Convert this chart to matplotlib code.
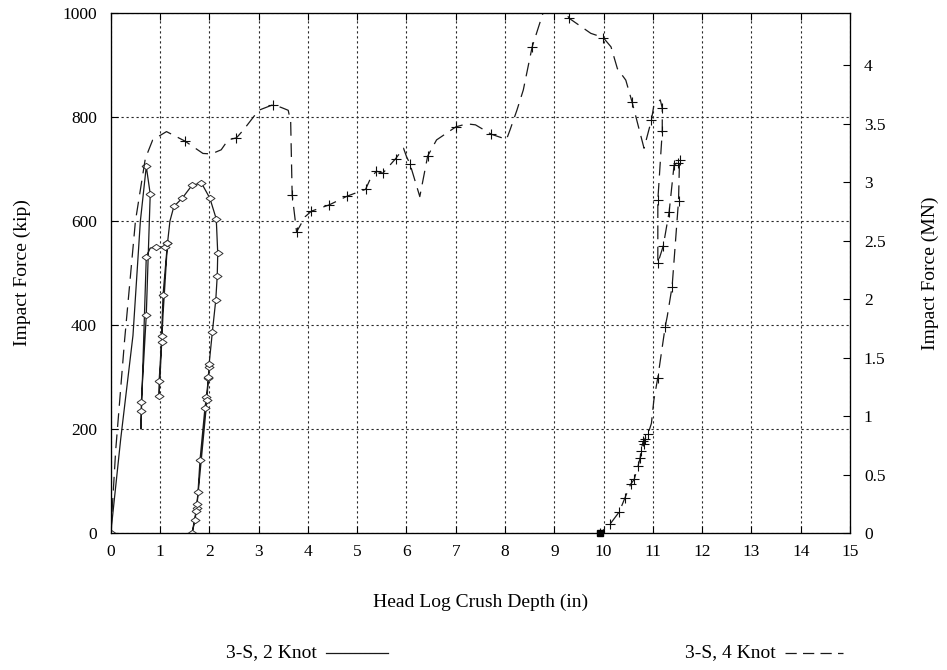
import matplotlib
matplotlib.use("Agg")
import matplotlib.pyplot as plt
from matplotlib.lines import Line2D

plt.rcParams['font.family'] = ['Liberation Serif', 'DejaVu Serif']
plt.rcParams['font.size'] = 12.5

# 3-S, 2 knot (solid, diamonds)
x_2knot = [0, 0.2, 0.45, 0.6, 0.72, 0.8, 0.72, 0.62, 0.62, 0.61, 0.72, 0.8,
           0.92, 1.09, 1.15, 1.06, 1.03, 1.03, 0.98, 0.98, 1.06, 1.15, 1.2,
           1.28, 1.45, 1.65, 1.84, 2.01, 2.14, 2.17, 2.16, 2.13, 2.06, 1.99,
           1.98, 1.94, 1.91, 1.81, 1.77, 1.74, 1.71, 1.65, 1.73, 1.75, 1.95,
           1.98, 2.0]
y_2knot = [0, 180, 380, 600, 705, 652, 419, 252, 235, 200, 531, 548,
           550, 550, 558, 458, 378, 368, 292, 263, 420, 557, 600,
           628, 644, 669, 673, 644, 604, 538, 495, 448, 386, 320,
           298, 261, 240, 140, 79, 48, 25, 0, 42, 55, 255,
           300, 325]
mark_2knot = [0, 4, 5, 6, 7, 8, 10, 12, 13, 14, 15, 16, 17, 18, 19, 21, 23,
              24, 25, 26, 27, 28, 29, 30, 31, 32, 33, 34, 35, 36, 37, 38, 39,
              40, 41, 42, 43, 44, 45, 46]

# 3-S, 4 knot (dashed, plus)
x_4knot = [0, 0.1, 0.28, 0.5, 0.7, 0.85, 1.13, 1.5, 1.87, 2.04, 2.24, 2.38,
           2.55, 2.69, 3.0, 3.3, 3.47, 3.6, 3.65, 3.68, 3.77, 3.94, 4.07,
           4.43, 4.8, 5.17, 5.27, 5.39, 5.52, 5.78, 5.94, 6.0, 6.07, 6.27,
           6.43, 6.61, 7.0, 7.22, 7.4, 7.72, 8.03, 8.1, 8.24, 8.37, 8.55,
           8.77, 9.0, 9.25, 9.3, 9.74, 9.99, 10.15, 10.28, 10.45, 10.58,
           10.82, 10.97, 11.02, 11.15, 11.19, 11.19, 11.1, 11.1, 11.21,
           11.33, 11.43, 11.5, 11.54, 11.52, 11.39, 11.29, 11.25, 11.1,
           11.02, 10.97, 10.9, 10.83, 10.82, 10.8, 10.76, 10.74, 10.7,
           10.62, 10.55, 10.43, 10.32, 10.13, 9.93]
y_4knot = [0, 160, 371, 600, 720, 756, 772, 754, 730, 729, 737, 756,
           760, 775, 813, 824, 818, 813, 791, 651, 579, 608, 619,
           631, 648, 661, 682, 696, 692, 720, 740, 724, 710, 647,
           725, 756, 781, 787, 785, 767, 757, 775, 813, 852, 935,
           1000, 1030, 998, 990, 961, 953, 935, 893, 871, 828,
           740, 794, 823, 833, 817, 773, 640, 519, 552,
           618, 708, 712, 717, 639, 474, 416, 397, 299,
           256, 211, 190, 180, 172, 176, 158, 144, 129,
           103, 94, 67, 41, 17, 0]
mark_4knot = [7, 12, 15, 19, 20, 22, 23, 24, 25, 27, 28, 29, 32, 34, 36, 39,
              44, 48, 50, 54, 56, 59, 60, 61, 62, 63, 64, 65, 66, 67, 68, 69,
              71, 72, 75, 76, 77, 78, 79, 80, 81, 82, 83, 84, 85, 86, 87]

kip_to_mn = 0.00444822

diamond = [(-1, 0), (0, 0.7), (1, 0), (0, -0.7), (-1, 0)]

fig = plt.figure(figsize=(9.47, 6.7), dpi=100)
ax = fig.add_axes([0.117, 0.2045, 0.7806, 0.776])

ax.plot(x_2knot, y_2knot, color='0.1', lw=0.9, marker=diamond,
        markevery=mark_2knot, markersize=6.5, markerfacecolor='white',
        markeredgecolor='0.2', markeredgewidth=0.7)
ax.plot(x_4knot, y_4knot, color='0.1', lw=0.9, ls=(0, (11, 6)), marker='+',
        markevery=mark_4knot, markersize=7.5, markeredgecolor='0.05',
        markeredgewidth=0.8)
ax.plot([x_4knot[-1]], [y_4knot[-1]], marker='s', color='k', markersize=4,
        clip_on=False)

ax.set_xlim(0, 15)
ax.set_ylim(0, 1000)
ax.set_xticks(range(0, 16))
ax.set_yticks(range(0, 1001, 200))
ax.grid(True, color='0.15', ls=(0, (2, 2.5)), lw=0.8)
ax.tick_params(direction='in', top=True, length=5, width=0.8, pad=8)
ax.tick_params(axis='y', pad=10)
for s in ax.spines.values():
    s.set_linewidth(0.9)
    s.set_color('0.15')

ax2 = ax.twinx()
ax2.set_ylim(0, 1000 * kip_to_mn)
ax2.set_yticks([0, 0.5, 1, 1.5, 2, 2.5, 3, 3.5, 4])
ax2.set_yticklabels(['0', '0.5', '1', '1.5', '2', '2.5', '3', '3.5', '4'])
ax2.tick_params(direction='in', length=5, width=0.8, pad=10)

fig.text(22 / 947, 1 - 273 / 670, 'Impact Force (kip)', rotation=90,
         ha='center', va='center', fontsize=14)
fig.text(930 / 947, 1 - 273 / 670, 'Impact Force (MN)', rotation=90,
         ha='center', va='center', fontsize=14)
fig.text(481 / 947, 1 - 602 / 670, 'Head Log Crush Depth (in)',
         ha='center', va='center', fontsize=14)

# legend below the plot
ly = 1 - 653 / 670
fig.text(317 / 947, ly, '3-S, 2 Knot', ha='right', va='center', fontsize=14)
fig.add_artist(Line2D([326 / 947, 388 / 947], [ly, ly], color='0.1', lw=0.9))
fig.text(776 / 947, ly, '3-S, 4 Knot', ha='right', va='center', fontsize=14)
fig.add_artist(Line2D([785 / 947, 843 / 947], [ly, ly], color='0.1', lw=0.9,
                      ls=(0, (9, 5))))

fig.savefig('out.png', dpi=100)
